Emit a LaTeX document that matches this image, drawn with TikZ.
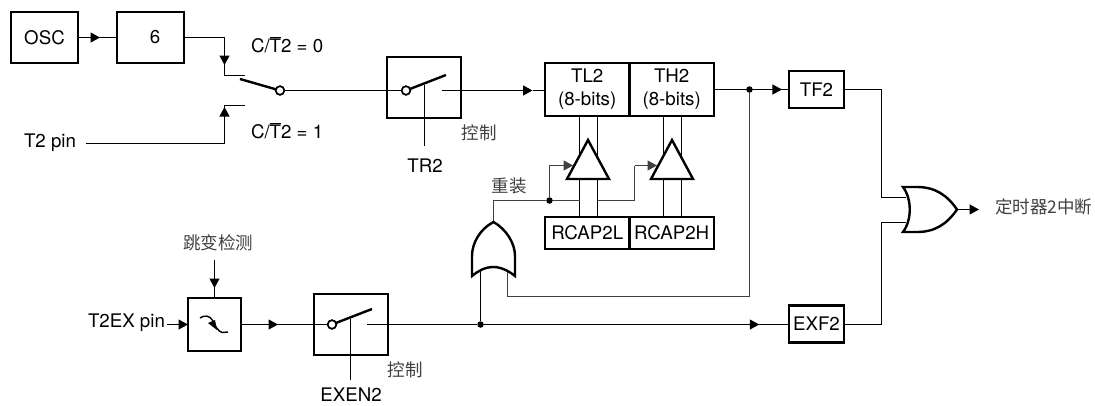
\documentclass[tikz,border=0pt]{standalone}
\usepackage{fontspec}
\setmainfont{TeX Gyre Heros}
\newfontfamily\cjk{Noto Sans CJK SC}
\usetikzlibrary{arrows.meta,decorations.markings}
\tikzset{
  x=1pt,y=-1pt,
  thinline/.style={line width=1.2pt,draw=black},
  greyline/.style={line width=1.2pt,draw=black!75},
  heavy/.style={line width=2.4pt,draw=black},
  blockbox/.style={draw=black,line width=2.4pt,rectangle,inner sep=0pt,outer sep=0pt,align=center,fill=white,font=\fontsize{18.7}{22.7}\selectfont},
  lbl/.style={inner sep=0pt,outer sep=0pt,font=\fontsize{18.7}{22}\selectfont},
  cjklbl/.style={inner sep=0pt,outer sep=0pt,text=black!75,font=\cjk\fontsize{17.5}{20}\selectfont},
  dotnode/.style={circle,fill=black,inner sep=0pt,outer sep=0pt,minimum size=6.5pt},
  ringnode/.style={circle,draw=black,fill=white,line width=1.6pt,inner sep=0pt,outer sep=0pt,minimum size=8.5pt},
  arrowat/.style={postaction={decorate},decoration={markings,mark=at position #1 with {\arrow{Triangle[length=9.5pt,width=10pt]}}}},
  tipend/.style={-{Triangle[length=9.5pt,width=10pt]}}
}
\begin{document}
\begin{tikzpicture}
\useasboundingbox (0,0) rectangle (1095,405);
% blocks
\node[blockbox,minimum width=67pt,minimum height=51pt] (osc) at (44.5,37.5) {OSC};
\node[blockbox,minimum width=67pt,minimum height=51pt] (six) at (150.5,37.5) {\hspace{9pt}6};
\node[blockbox,minimum width=74pt,minimum height=61pt] (tr) at (424,87.5) {};
\node[blockbox,minimum width=84.5pt,minimum height=53pt] (tl) at (587.2,89.5) {TL2\\(8-bits)};
\node[blockbox,minimum width=84.5pt,minimum height=53pt] (th) at (671.7,89.5) {TH2\\(8-bits)};
\node[blockbox,minimum width=84.5pt,minimum height=32pt] (rl) at (587.2,233) {RCAP2L};
\node[blockbox,minimum width=84.5pt,minimum height=32pt] (rh) at (671.7,233) {RCAP2H};
\node[blockbox,minimum width=55pt,minimum height=37pt] (tf) at (816.5,89.5) {TF2};
\node[blockbox,minimum width=55pt,minimum height=37pt] (exf) at (816.5,324) {EXF2};
\node[blockbox,minimum width=53pt,minimum height=53pt] (edge) at (214.5,324.5) {};
\node[blockbox,minimum width=74pt,minimum height=61pt] (en) at (351,324.5) {};
% labels
\node[lbl,anchor=west] (t2pin) at (24,143) {T2 pin};
\node[lbl,anchor=west] (t2ex) at (88,323) {T2EX pin};
\node[lbl,anchor=west] (c0) at (251,45) {C/$\overline{\mbox{T}}$2 = 0};
\node[lbl,anchor=west] (c1) at (251,131) {C/$\overline{\mbox{T}}$2 = 1};
\node[lbl] (trl) at (425,166) {TR2};
\node[lbl] (enl) at (351,395) {EXEN2};
\node[cjklbl] (ctl1) at (479,133) {控制};
\node[cjklbl] (ctl2) at (405,370) {控制};
\node[cjklbl] (reload) at (509,186) {重装};
\node[cjklbl] (det) at (218,243) {跳变检测};
\node[cjklbl,anchor=west] (intr) at (995,207) {定时器2中断};
% coordinates
\coordinate (ca) at (224.5,75.5);
\coordinate (cae) at (245,75.5);
\coordinate (cb) at (224.5,105.5);
\coordinate (cbe) at (245,105.5);
\coordinate (t2s) at (86,143.5);
\node[ringnode] (sw) at (280,90.5) {};
\node[ringnode] (swt) at (406,90.5) {};
\node[ringnode] (swe) at (332,324.5) {};
\coordinate (trc) at (442,90.5);
\coordinate (trtip) at (532.5,90.5);
\coordinate (enc) at (367,324.5);
\coordinate (trb) at (424.5,146);
\coordinate (trt) at (424.5,85);
\coordinate (enb) at (350.5,380);
\coordinate (ent) at (350.5,319);
\coordinate (bl1) at (446,75);
\coordinate (bl2) at (372,309);
\coordinate (bl0) at (240,79);
\node[dotnode] (j1) at (749.5,89.5) {};
\node[dotnode] (j2) at (549.5,200.5) {};
\node[dotnode] (j3) at (480.5,324.5) {};
\coordinate (gapex) at (493.5,222);
\coordinate (gl) at (480.5,270);
\coordinate (gr) at (507.5,270);
\coordinate (fb) at (507.5,296.5);
\coordinate (rt1) at (881.5,89.5);
\coordinate (rt2) at (881.5,324.5);
\coordinate (bgin1) at (906,197.5);
\coordinate (bgin2) at (906,222.5);
\coordinate (bgtip) at (957,209.5);
\coordinate (out) at (979,209.5);
\coordinate (trl1) at (588,140);
\coordinate (trl2) at (672,140);
\coordinate (detb) at (214.5,260);
\coordinate (dett) at (214.5,288);
\coordinate (lg1) at (579.5,200.5);
\coordinate (lg2) at (597.5,200.5);
\coordinate (up2) at (634.5,165.5);
\coordinate (t1) at (573,165.5);
\coordinate (t2) at (657,165.5);
\coordinate (exin) at (167,324.5);
% connectors
\draw[thinline,arrowat=22pt] (osc.east) -- (six.west);
\draw[thinline,arrowat=68pt] (six.east) -| (ca) -- (cae);
\draw[thinline,arrowat=175pt] (t2s) -| (cb) -- (cbe);
\draw[thinline] (sw.east) -- (swt.west);
\draw[thinline,tipend] (trc) -- (trtip);
\draw[thinline] (trtip) -- (tl.west |- trtip);
\draw[thinline] (trt) -- (trb);
\draw[thinline] (ent) -- (enb);
% data paths between registers
\foreach \xa in {579.5,597.5} {
  \draw[thinline] (tl.south -| \xa,0) -- (rl.north -| \xa,0);
}
\foreach \xa in {663.5,681.5} {
  \draw[thinline] (th.south -| \xa,0) -- (rh.north -| \xa,0);
}
% reload
\draw[greyline] (gapex) |- (j2) -- (lg1);
\draw[greyline,tipend] (j2) |- (t1);
\draw[greyline] (lg2) -| (up2);
\draw[greyline,tipend] (up2) -- (t2);
% triangles
\draw[heavy,fill=white,line join=miter] (trl1) -- (609,179) -- (567,179) -- cycle;
\draw[heavy,fill=white,line join=miter] (trl2) -- (693,179) -- (651,179) -- cycle;
% output
\draw[thinline,arrowat=68pt] (tf.west -| th.east) -- (tf.west);
\draw[greyline] (j1) |- (fb) -- (gr);
\draw[thinline] (gl) -- (j3);
\draw[thinline] (enc) -- (j3);
\draw[thinline,arrowat=275.5pt] (j3) -- (j3 -| exf.west);
\draw[thinline] (tf.east) -- (rt1) |- (bgin1);
\draw[thinline] (rt2 -| exf.east) -- (rt2) |- (bgin2);
\draw[thinline,tipend] (bgtip) -- (out);
% edge detector
\draw[thinline,tipend] (exin) -- (edge.west);
\draw[thinline] (detb) -- (edge.north -| detb);
\draw[thinline,tipend] (detb) -- (dett);
\draw[thinline,arrowat=37pt] (edge.east) -- (en.west);
\draw[thinline] (en.west) -- (swe.west);
% small gates
\draw[heavy,fill=white,line join=miter] (gapex) .. controls (480,229) and (472,243) .. (472,256) -- (472,276)
  .. controls (478,271) and (485,267) .. (493.5,267) .. controls (501,267) and (509,271) .. (515,276)
  -- (515,256) .. controls (515,243) and (506,229) .. (gapex) -- cycle;
\draw[heavy,fill=white,line join=miter] (903,187) -- (917,187) .. controls (935,187) and (947,195) .. (bgtip)
  .. controls (947,224) and (935,232) .. (917,232) -- (903,232)
  .. controls (912,220) and (912,199) .. (903,187) -- cycle;
% switch blades
\draw[heavy] (bl0) -- (sw);
\draw[heavy] (swt) -- (bl1);
\draw[heavy] (swe) -- (bl2);
\node[ringnode] at (sw) {};
\node[ringnode] at (swt) {};
\node[ringnode] at (swe) {};
% transition symbol
\draw[line width=1.4pt,black] (200,318) .. controls (204,315) and (210,315) .. (213,321)
  .. controls (215,326) and (218,331) .. (222,332.5) -- (228,332);
\fill[black] (208,323) -- (215,320) -- (217,330) -- cycle;
\end{tikzpicture}
\end{document}
